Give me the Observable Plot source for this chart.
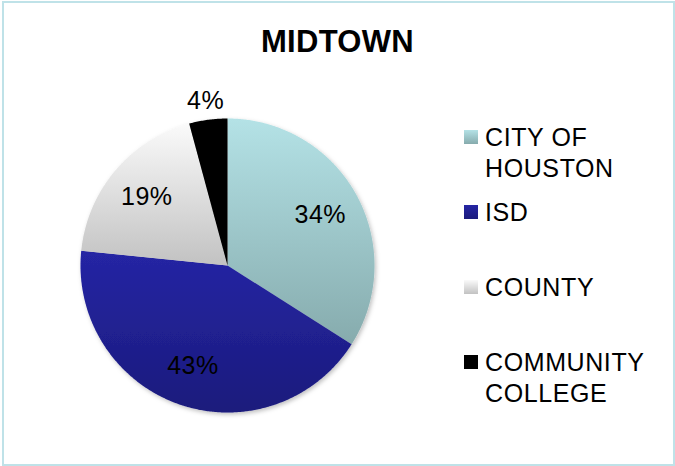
<!DOCTYPE html>
<html>
<head>
<meta charset="utf-8">
<script src="https://cdn.jsdelivr.net/npm/d3@7"></script>
<script src="https://cdn.jsdelivr.net/npm/@observablehq/plot@0.6"></script>
<style>
  html, body { margin: 0; padding: 0; background: #fff; }
  #chart { position: relative; width: 675px; height: 466px; font-family: "Liberation Sans", Arial, sans-serif; overflow: hidden; }
  #border { position: absolute; left: 2px; top: 1px; width: 673px; height: 465px; box-sizing: border-box; border: 2px solid #bfe2e8; pointer-events: none; }
  #title { position: absolute; left: 0; top: 26px; width: 675px; text-align: center; font-weight: bold; font-size: 31px; line-height: 31px; letter-spacing: 0.3px; color: #000; }
  .item { position: absolute; left: 464px; display: flex; align-items: flex-start; }
  .sw { width: 14px; height: 14px; margin-top: 8px; margin-right: 7px; flex: none; }
  .lbl { font-size: 25px; line-height: 31px; letter-spacing: 0.6px; color: #000; }
  #plot { position: absolute; left: 0; top: 0; }
</style>
</head>
<body>
<div id="chart">
  <div id="plot"></div>
  <div id="title"></div>
  <div id="legend"></div>
  <div id="border"></div>
</div>
<script>
const title = "MIDTOWN";
const categories = ["CITY OF HOUSTON", "ISD", "COUNTY", "COMMUNITY COLLEGE"];
const legendLines = [["CITY OF", "HOUSTON"], ["ISD"], ["COUNTY"], ["COMMUNITY", "COLLEGE"]];
const values = [34.0, 42.6, 19.2, 4.2];
const gradTop = ["#b4e2e6", "#2525a4", "#fafafa", "#000000"];
const gradBottom = ["#86abad", "#1b1b7c", "#c2c2c2", "#000000"];

const total = d3.sum(values);
// slice polygons (unit radius, angle clockwise from 12 o'clock)
const rows = [];
const labelRows = [];
let cum = 0;
values.forEach((v, i) => {
  const a0 = cum / total * 2 * Math.PI;
  cum += v;
  const a1 = cum / total * 2 * Math.PI;
  const n = Math.max(2, Math.ceil((a1 - a0) / (Math.PI / 360)));
  rows.push({cat: categories[i], fill: `url(#g${i})`, x: 0, y: 0});
  for (let k = 0; k <= n; k++) {
    const a = a0 + (a1 - a0) * k / n;
    rows.push({cat: categories[i], fill: `url(#g${i})`, x: Math.sin(a), y: Math.cos(a)});
  }
  rows.push({cat: categories[i], fill: `url(#g${i})`, x: 0, y: 0});
  const mid = (a0 + a1) / 2;
  const pct = v / total * 100;
  const r = pct < 5 ? 1.13 : 0.72;
  labelRows.push({x: r * Math.sin(mid), y: r * Math.cos(mid), text: Math.round(pct) + "%"});
});

const plot = Plot.plot({
  width: 675,
  height: 466,
  marginLeft: 80,
  marginRight: 301,
  marginTop: 118,
  marginBottom: 54,
  x: {domain: [-1, 1], axis: null},
  y: {domain: [-1, 1], axis: null},
  color: {type: "identity"},
  style: {background: "transparent", fontFamily: "'Liberation Sans', Arial, sans-serif", overflow: "visible"},
  marks: [
    Plot.line(rows, {x: "x", y: "y", z: "cat", fill: "fill", stroke: "none"}),
    Plot.text(labelRows, {x: "x", y: "y", text: "text", fontSize: 25, fill: "#000", style: "letter-spacing:0.5px"})
  ]
});

// gradients + shadow
const ns = "http://www.w3.org/2000/svg";
const defs = document.createElementNS(ns, "defs");
gradTop.forEach((c, i) => {
  const g = document.createElementNS(ns, "linearGradient");
  g.setAttribute("id", "g" + i);
  g.setAttribute("x1", "0"); g.setAttribute("y1", "0");
  g.setAttribute("x2", "0"); g.setAttribute("y2", "1");
  const s0 = document.createElementNS(ns, "stop");
  s0.setAttribute("offset", "0"); s0.setAttribute("stop-color", c);
  const s1 = document.createElementNS(ns, "stop");
  s1.setAttribute("offset", "1"); s1.setAttribute("stop-color", gradBottom[i]);
  g.appendChild(s0); g.appendChild(s1);
  defs.appendChild(g);
});
const f = document.createElementNS(ns, "filter");
f.setAttribute("id", "sh");
f.setAttribute("x", "-10%"); f.setAttribute("y", "-10%");
f.setAttribute("width", "125%"); f.setAttribute("height", "125%");
const ds = document.createElementNS(ns, "feDropShadow");
ds.setAttribute("dx", "1.5"); ds.setAttribute("dy", "2");
ds.setAttribute("stdDeviation", "2"); ds.setAttribute("flood-color", "#000");
ds.setAttribute("flood-opacity", "0.25");
f.appendChild(ds);
defs.appendChild(f);
plot.insertBefore(defs, plot.firstChild);
const lg = plot.querySelector('g[aria-label="line"]');
if (lg) lg.setAttribute("filter", "url(#sh)");
plot.querySelectorAll('g[aria-label="text"] text').forEach(t => t.style.letterSpacing = "0.5px");

document.getElementById("plot").appendChild(plot);
document.getElementById("title").textContent = title;

// legend
const legend = document.getElementById("legend");
legendLines.forEach((lines, i) => {
  const item = document.createElement("div");
  item.className = "item";
  item.style.top = (122 + 75 * i) + "px";
  const sw = document.createElement("div");
  sw.className = "sw";
  sw.style.background = `linear-gradient(${gradTop[i]}, ${gradBottom[i]})`;
  const lbl = document.createElement("div");
  lbl.className = "lbl";
  lbl.innerHTML = lines.join("<br>");
  item.appendChild(sw);
  item.appendChild(lbl);
  legend.appendChild(item);
});
</script>
</body>
</html>
